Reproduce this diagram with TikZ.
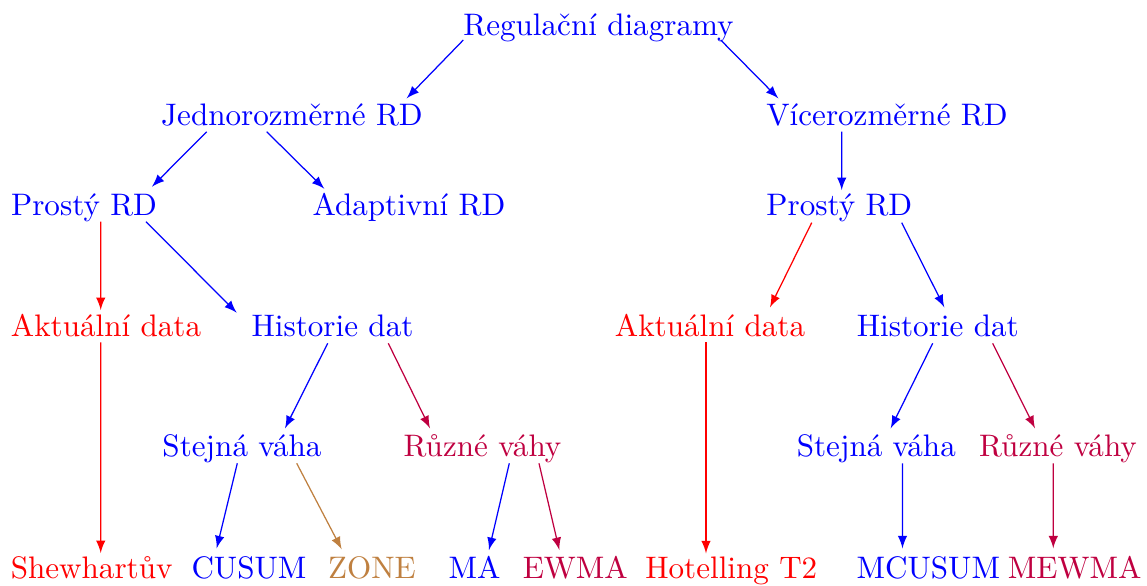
\documentclass[tikz,border=0pt]{standalone}
\usepackage{fontspec}
\definecolor{rdpurple}{rgb}{0.75,0,0.25}
\definecolor{rdbrown}{rgb}{0.75,0.5,0.25}
\tikzset{
  lbl/.style={anchor=base, inner sep=0pt, outer sep=0pt},
  arr/.style={-latex, line width=0.4pt},
}
\begin{document}
\begin{tikzpicture}[x=0.3215pt, y=-0.3215pt]
\useasboundingbox (0,0) rectangle (1147,585);
% row 1
\node[lbl, blue] (reg) at (598.5,35) {Regulační diagramy};
% row 2
\node[lbl, blue] (jed) at (292,125) {Jednorozměrné RD};
\node[lbl, blue] (vic) at (887,125) {Vícerozměrné RD};
% row 3
\node[lbl, blue] (proL) at (84,215) {Prostý RD};
\node[lbl, blue] (ada) at (409,215) {Adaptivní RD};
\node[lbl, blue] (proR) at (839.3,215) {Prostý RD};
% row 4
\node[lbl, red] (aktL) at (106,336.5) {Aktuální data};
\node[lbl, blue] (hisL) at (332.5,336.5) {Historie dat};
\node[lbl, red] (aktR) at (710,336.5) {Aktuální data};
\node[lbl, blue] (hisR) at (937.8,336.5) {Historie dat};
% row 5
\node[lbl, blue] (stL) at (242,456.7) {Stejná váha};
\node[lbl, rdpurple] (ruL) at (482.5,456.7) {Různé váhy};
\node[lbl, blue] (stR) at (876.3,456.7) {Stejná váha};
\node[lbl, rdpurple] (ruR) at (1058,456.7) {Různé váhy};
% row 6
\node[lbl, red] (she) at (91.7,578) {Shewhartův};
\node[lbl, blue] (cus) at (249,578) {CUSUM};
\node[lbl, rdbrown] (zon) at (372,578) {ZONE};
\node[lbl, blue] (ma) at (474.5,578) {MA};
\node[lbl, rdpurple] (ewm) at (575.3,578) {EWMA};
\node[lbl, red] (hot) at (731.3,578) {Hotelling T2};
\node[lbl, blue] (mcu) at (928.3,578) {MCUSUM};
\node[lbl, rdpurple] (mew) at (1074.7,578) {MEWMA};
% connectors
\draw[arr, blue] ([shift={(-135.2,5)}]reg.base) -- ([shift={(114.7,-26.7)}]jed.base);
\draw[arr, blue] ([shift={(122.2,5)}]reg.base) -- ([shift={(-108.7,-26.7)}]vic.base);
\draw[arr, blue] ([shift={(-85.3,6.7)}]jed.base) -- ([shift={(68,-28.3)}]proL.base);
\draw[arr, blue] ([shift={(-25.3,6.7)}]jed.base) -- ([shift={(-84.7,-26.3)}]ada.base);
\draw[arr, blue] ([shift={(-45.3,6.7)}]vic.base) -- ([shift={(2.4,-25)}]proR.base);
\draw[arr, red] ([shift={(16.7,6.7)}]proL.base) -- ([shift={(-5.3,-26.5)}]aktL.base);
\draw[arr, blue] ([shift={(62,6.7)}]proL.base) -- ([shift={(-95.8,-23.8)}]hisL.base);
\draw[arr, red] ([shift={(-27.6,7.7)}]proR.base) -- ([shift={(60,-29.2)}]aktR.base);
\draw[arr, blue] ([shift={(62.4,7.7)}]proR.base) -- ([shift={(6.5,-29.2)}]hisR.base);
\draw[arr, blue] ([shift={(-4.8,6.8)}]hisL.base) -- ([shift={(43,-28.4)}]stL.base);
\draw[arr, rdpurple] ([shift={(55.8,6.8)}]hisL.base) -- ([shift={(-52.5,-28.4)}]ruL.base);
\draw[arr, blue] ([shift={(-5.1,6.8)}]hisR.base) -- ([shift={(14.4,-28.4)}]stR.base);
\draw[arr, rdpurple] ([shift={(54.9,6.8)}]hisR.base) -- ([shift={(-23,-28.4)}]ruR.base);
\draw[arr, red] ([shift={(-5.3,5.8)}]aktL.base) -- ([shift={(9,-25)}]she.base);
\draw[arr, red] ([shift={(-4,5.8)}]aktR.base) -- ([shift={(-25.3,-24.7)}]hot.base);
\draw[arr, blue] ([shift={(-4.7,6.6)}]stL.base) -- ([shift={(-32.3,-29.7)}]cus.base);
\draw[arr, rdbrown] ([shift={(54.7,6.6)}]stL.base) -- ([shift={(-30.3,-28.7)}]zon.base);
\draw[arr, blue] ([shift={(26.8,6.6)}]ruL.base) -- ([shift={(14.5,-28)}]ma.base);
\draw[arr, rdpurple] ([shift={(56.5,6.6)}]ruL.base) -- ([shift={(-16,-28)}]ewm.base);
\draw[arr, blue] ([shift={(26.2,6.6)}]stR.base) -- ([shift={(-25.8,-29.7)}]mcu.base);
\draw[arr, rdpurple] ([shift={(-4.7,6.6)}]ruR.base) -- ([shift={(-21.4,-29.7)}]mew.base);
\end{tikzpicture}
\end{document}
